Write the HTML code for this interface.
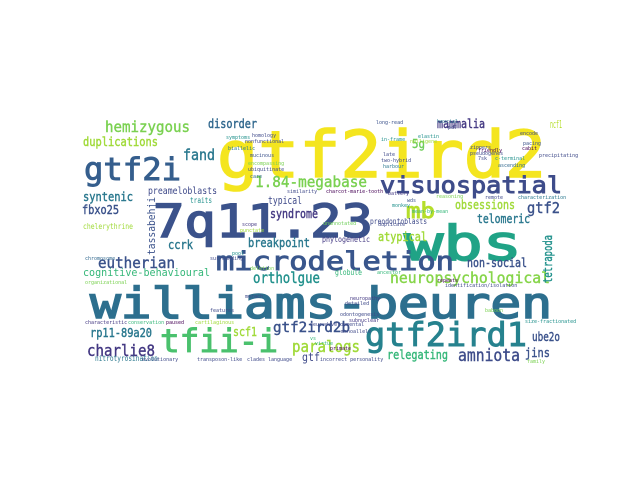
<!DOCTYPE html>
<html><head><meta charset="utf-8"><style>
html,body{margin:0;padding:0;background:#fff;}
svg{display:block;}
text{font-family:"DejaVu Sans Mono","Liberation Mono",monospace;}
.b1{stroke-width:1.6px;}
.b2{stroke-width:0.9px;}
.b3{stroke-width:0.4px;}
</style></head><body>
<svg width="640" height="480" viewBox="0 0 640 480">
<rect x="0" y="0" width="640" height="480" fill="#fff"/>
<g>
<text class="b1" x="217" y="177" font-size="64" textLength="329" lengthAdjust="spacingAndGlyphs" fill="#f4e51f" stroke="#f4e51f">gtf2ird2</text>
<text class="b1" x="153" y="237" font-size="45" textLength="220" lengthAdjust="spacingAndGlyphs" fill="#3b528b" stroke="#3b528b">7q11.23</text>
<text class="b1" x="90" y="318" font-size="43" textLength="462" lengthAdjust="spacingAndGlyphs" fill="#2d6f8e" stroke="#2d6f8e">williams-beuren</text>
<text class="b1" x="404" y="260" font-size="48" textLength="118" lengthAdjust="spacingAndGlyphs" fill="#20a386" stroke="#20a386">wbs</text>
<text class="b2" x="216" y="270" font-size="26" textLength="238" lengthAdjust="spacingAndGlyphs" fill="#39568c" stroke="#39568c">microdeletion</text>
<text class="b2" x="380" y="193" font-size="23" textLength="182" lengthAdjust="spacingAndGlyphs" fill="#3e4c8a" stroke="#3e4c8a">visuospatial</text>
<text class="b2" x="84" y="180" font-size="31" textLength="97" lengthAdjust="spacingAndGlyphs" fill="#355e8d" stroke="#355e8d">gtf2i</text>
<text class="b2" x="160" y="352" font-size="32" textLength="118" lengthAdjust="spacingAndGlyphs" fill="#4ac16d" stroke="#4ac16d">tfii-i</text>
<text class="b2" x="365" y="346" font-size="33" textLength="162" lengthAdjust="spacingAndGlyphs" fill="#26828e" stroke="#26828e">gtf2ird1</text>
<text class="b2" x="406" y="218" font-size="21" textLength="29" lengthAdjust="spacingAndGlyphs" fill="#b5de2b" stroke="#b5de2b">mb</text>
<text class="b3" x="105" y="132" font-size="15" textLength="85" lengthAdjust="spacingAndGlyphs" fill="#7ad151" stroke="#7ad151">hemizygous</text>
<text class="b3" x="83" y="146" font-size="12" textLength="75" lengthAdjust="spacingAndGlyphs" fill="#a0da39" stroke="#a0da39">duplications</text>
<text class="b3" x="183" y="160" font-size="15" textLength="32" lengthAdjust="spacingAndGlyphs" fill="#2a788e" stroke="#2a788e">fand</text>
<text class="b3" x="208" y="128" font-size="12.5" textLength="49" lengthAdjust="spacingAndGlyphs" fill="#31688e" stroke="#31688e">disorder</text>
<text class="b3" x="255" y="187" font-size="15" textLength="112" lengthAdjust="spacingAndGlyphs" fill="#7ad151" stroke="#7ad151">1.84-megabase</text>
<text x="148" y="194" font-size="10" textLength="69" lengthAdjust="spacingAndGlyphs" fill="#3e4989">preameloblasts</text>
<text class="b3" x="83" y="201" font-size="12" textLength="50" lengthAdjust="spacingAndGlyphs" fill="#2a788e" stroke="#2a788e">syntenic</text>
<text class="b3" x="82" y="214" font-size="12" textLength="37" lengthAdjust="spacingAndGlyphs" fill="#3b528b" stroke="#3b528b">fbxo25</text>
<text x="83" y="229" font-size="7.5" textLength="50" lengthAdjust="spacingAndGlyphs" fill="#a0da39">chelerythrine</text>
<text x="268" y="204" font-size="11" textLength="34" lengthAdjust="spacingAndGlyphs" fill="#3e4989">typical</text>
<text class="b3" x="270" y="218" font-size="12" textLength="48" lengthAdjust="spacingAndGlyphs" fill="#443983" stroke="#443983">syndrome</text>
<text x="190" y="203" font-size="7.5" textLength="22" lengthAdjust="spacingAndGlyphs" fill="#21918c">traits</text>
<text class="b3" x="168" y="249" font-size="12" textLength="25" lengthAdjust="spacingAndGlyphs" fill="#2a788e" stroke="#2a788e">ccrk</text>
<text class="b3" x="248" y="247" font-size="12.5" textLength="62" lengthAdjust="spacingAndGlyphs" fill="#2a788e" stroke="#2a788e">breakpoint</text>
<text transform="translate(155,255) rotate(-90)" font-size="11" textLength="58" lengthAdjust="spacingAndGlyphs" fill="#3b528b">tassabehji</text>
<text class="b3" x="98" y="268" font-size="15" textLength="77" lengthAdjust="spacingAndGlyphs" fill="#3b528b" stroke="#3b528b">eutherian</text>
<text x="83" y="276" font-size="11" textLength="127" lengthAdjust="spacingAndGlyphs" fill="#35b779">cognitive-behavioural</text>
<text class="b3" x="253" y="283" font-size="15" textLength="67" lengthAdjust="spacingAndGlyphs" fill="#21918c" stroke="#21918c">ortholgue</text>
<text class="b3" x="378" y="241" font-size="12.5" textLength="49" lengthAdjust="spacingAndGlyphs" fill="#a0da39" stroke="#a0da39">atypical</text>
<text x="322" y="242" font-size="7.5" textLength="48" lengthAdjust="spacingAndGlyphs" fill="#443983">phylogenetic</text>
<text class="b3" x="455" y="209" font-size="12.5" textLength="60" lengthAdjust="spacingAndGlyphs" fill="#a0da39" stroke="#a0da39">obsessions</text>
<text class="b3" x="477" y="223" font-size="12.5" textLength="53" lengthAdjust="spacingAndGlyphs" fill="#2a788e" stroke="#2a788e">telomeric</text>
<text class="b3" x="527" y="213" font-size="15" textLength="33" lengthAdjust="spacingAndGlyphs" fill="#3b528b" stroke="#3b528b">gtf2</text>
<text x="370" y="224" font-size="7.5" textLength="57" lengthAdjust="spacingAndGlyphs" fill="#3e4989">preodontoblasts</text>
<text class="b3" x="437" y="128" font-size="12.5" textLength="48" lengthAdjust="spacingAndGlyphs" fill="#443983" stroke="#443983">mammalia</text>
<text class="b3" x="412" y="148" font-size="12.5" textLength="13" lengthAdjust="spacingAndGlyphs" fill="#6ece58" stroke="#6ece58">5g</text>
<text x="550" y="128" font-size="11" textLength="12" lengthAdjust="spacingAndGlyphs" fill="#b5de2b">ncf1</text>
<text class="b3" x="467" y="267" font-size="12.5" textLength="60" lengthAdjust="spacingAndGlyphs" fill="#3b528b" stroke="#3b528b">non-social</text>
<text class="b3" x="390" y="283" font-size="15" textLength="160" lengthAdjust="spacingAndGlyphs" fill="#86d549" stroke="#86d549">neuropsychological</text>
<text class="b3" transform="translate(552,283) rotate(-90)" font-size="12.5" textLength="48" lengthAdjust="spacingAndGlyphs" fill="#21918c" stroke="#21918c">tetrapoda</text>
<text x="335" y="275" font-size="8" textLength="27" lengthAdjust="spacingAndGlyphs" fill="#35b779">globule</text>
<text class="b3" x="273" y="332" font-size="14" textLength="77" lengthAdjust="spacingAndGlyphs" fill="#3b528b" stroke="#3b528b">gtf2ird2b</text>
<text class="b3" x="90" y="337" font-size="12" textLength="62" lengthAdjust="spacingAndGlyphs" fill="#2a788e" stroke="#2a788e">rp11-89a20</text>
<text class="b3" x="233" y="336" font-size="12.5" textLength="24" lengthAdjust="spacingAndGlyphs" fill="#a0da39" stroke="#a0da39">scf1</text>
<text class="b3" x="87" y="356" font-size="16" textLength="68" lengthAdjust="spacingAndGlyphs" fill="#443983" stroke="#443983">charlie8</text>
<text class="b3" x="292" y="352" font-size="16" textLength="68" lengthAdjust="spacingAndGlyphs" fill="#a0da39" stroke="#a0da39">paralogs</text>
<text x="302" y="361" font-size="11.5" textLength="18" lengthAdjust="spacingAndGlyphs" fill="#3e4989">gtf</text>
<text class="b3" x="387" y="359" font-size="12.5" textLength="61" lengthAdjust="spacingAndGlyphs" fill="#35b779" stroke="#35b779">relegating</text>
<text class="b3" x="458" y="361" font-size="17" textLength="62" lengthAdjust="spacingAndGlyphs" fill="#3e4c8a" stroke="#3e4c8a">amniota</text>
<text class="b3" x="525" y="357" font-size="12.5" textLength="25" lengthAdjust="spacingAndGlyphs" fill="#3b528b" stroke="#3b528b">jins</text>
<text class="b3" x="532" y="341" font-size="12.5" textLength="28" lengthAdjust="spacingAndGlyphs" fill="#3b528b" stroke="#3b528b">ube2o</text>
<text x="95" y="361" font-size="7.5" textLength="63" lengthAdjust="spacingAndGlyphs" fill="#2a788e">nitrotyrosination</text>
</g>
<g font-size="5">
<text x="85" y="324" fill="#443983">characteristic</text><text x="128" y="324" fill="#35b779">conservation</text><text x="166" y="324" fill="#440154">paused</text><text x="195" y="324" fill="#a0da39">cartilaginous</text>
<text x="226" y="139" fill="#21918c">symptoms</text><text x="252" y="137" fill="#3e4989">homology</text><text x="245" y="143" fill="#3e4989">nonfunctional</text><text x="228" y="150" fill="#2a788e">biallelic</text>
<text x="250" y="157" fill="#3b528b">mucinous</text><text x="248" y="165" fill="#7ad151">encompassing</text><text x="248" y="171" fill="#3e4989">ubiquitinate</text><text x="250" y="178" fill="#31688e">care</text>
<text x="287" y="193" fill="#3e4989">similarity</text><text x="326" y="193" fill="#440154">charcot-marie-tooth</text><text x="388" y="195" fill="#443983">battery</text>
<text x="376" y="124" fill="#3b528b">long-read</text><text x="381" y="141" fill="#21918c">in-frame</text><text x="383" y="156" fill="#3e4989">late</text><text x="381" y="162" fill="#3e4989">two-hybrid</text><text x="383" y="168" fill="#2a788e">harbour</text>
<text x="437" y="123" fill="#2a788e">hexcial</text><text x="448" y="129" fill="#3e4989">pd7</text><text x="418" y="138" fill="#21918c">elastin</text><text x="410" y="143" fill="#a0da39">nulligene</text>
<text x="470" y="149" fill="#3e4989">zippers</text><text x="470" y="155" fill="#3e4989">pseudogenes</text><text x="478" y="152" fill="#440154">friendly</text><text x="478" y="160" fill="#3e4989">7sk</text><text x="495" y="160" fill="#21918c">c-terminal</text><text x="498" y="167" fill="#31688e">ascending</text>
<text x="520" y="135" fill="#3e4989">encode</text><text x="523" y="145" fill="#3b528b">pacing</text><text x="522" y="150" fill="#440154">cabit</text><text x="539" y="157" fill="#3e4989">precipitating</text>
<text x="392" y="207" fill="#21918c">monkey</text><text x="407" y="202" fill="#3b528b">wds</text><text x="412" y="213" fill="#35b779">mean-by-mean</text><text x="436" y="198" fill="#7ad151">reasoning</text><text x="485" y="199" fill="#3e4989">remote</text><text x="518" y="199" fill="#2a788e">characterization</text>
<text x="242" y="226" fill="#443983">scope</text><text x="240" y="232" fill="#a0da39">punctate</text><text x="323" y="225" fill="#6ece58">unannotated</text><text x="378" y="226" fill="#3e4989">duplicate</text>
<text x="210" y="260" fill="#3e4989">surrounding</text><text x="232" y="255" fill="#21918c">pool</text><text x="250" y="270" fill="#7ad151">deletion</text><text x="85" y="260" fill="#31688e">chromosome</text><text x="85" y="284" fill="#7ad151">organizational</text>
<text x="245" y="298" fill="#3e4989">merach</text><text x="210" y="312" fill="#3e4989">features</text><text x="310" y="326" fill="#3e4989">neurodevelopmental</text><text x="310" y="340" fill="#35b779">vs</text><text x="315" y="345" fill="#35b779">virtue</text><text x="330" y="350" fill="#440154">primate</text>
<text x="142" y="361" fill="#3e4989">evolutionary</text><text x="197" y="361" fill="#3e4989">transposon-like</text><text x="247" y="361" fill="#3e4989">clades</text><text x="268" y="361" fill="#3e4989">language</text><text x="320" y="361" fill="#3e4989">incorrect personality</text>
<text x="345" y="305" fill="#3e4989">detailed</text><text x="340" y="316" fill="#3e4989">odontogenesis</text><text x="349" y="322" fill="#443983">subnuclear</text><text x="341" y="333" fill="#3e4989">monoallele</text>
<text x="350" y="300" fill="#443983">neuropathy</text><text x="377" y="274" fill="#35b779">ancestor</text><text x="437" y="282" fill="#440154">repeats</text><text x="445" y="287" fill="#3e4989">identification/isolation</text><text x="485" y="312" fill="#7ad151">baboon</text><text x="525" y="323" fill="#21918c">size-fractionated</text><text x="527" y="363" fill="#7ad151">family</text>
</g>
</svg>
</body></html>
